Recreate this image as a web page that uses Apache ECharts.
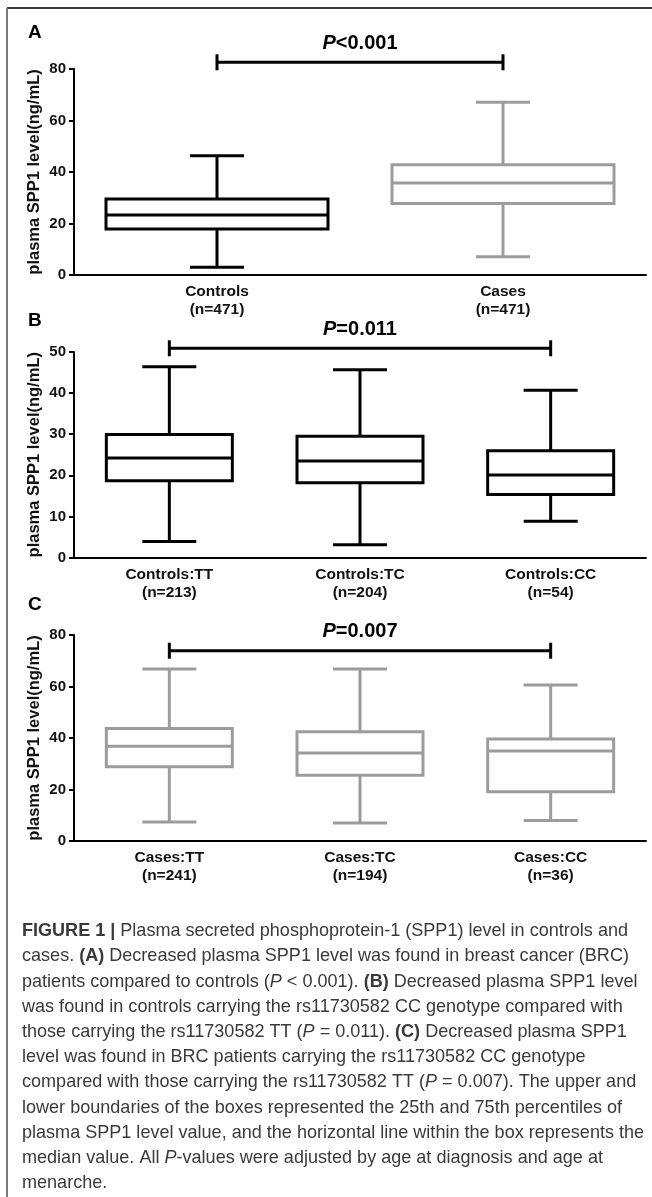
<!DOCTYPE html>
<html>
<head>
<meta charset="utf-8">
<title>Plasma SPP1 level</title>
<script src="https://cdn.jsdelivr.net/npm/echarts@6.0.0/dist/echarts.min.js"></script>
<style>
  html, body { margin: 0; padding: 0; background: #fff; }
  #chart { width: 652px; height: 1197px; }
</style>
</head>
<body>
<div id="chart"></div>
<script>
  // ---- data ----
  // every box: [min, q1, median, q3, max]
  const catsA = ['Controls\n(n=471)', 'Cases\n(n=471)']
  const boxA = [
    [3.0, 17.9, 23.3, 29.5, 46.3],
    [7.1, 27.8, 35.7, 42.8, 67.1]
  ]

  const catsB = ['Controls:TT\n(n=213)', 'Controls:TC\n(n=204)', 'Controls:CC\n(n=54)']
  const boxB = [
    [3.9, 18.7, 24.2, 29.9, 46.4],
    [3.1, 18.2, 23.5, 29.5, 45.7],
    [8.8, 15.3, 20.1, 26.0, 40.7]
  ]

  const catsC = ['Cases:TT\n(n=241)', 'Cases:TC\n(n=194)', 'Cases:CC\n(n=36)']
  const boxC = [
    [7.4, 28.8, 36.8, 43.7, 66.8],
    [7.0, 25.5, 34.2, 42.4, 66.8],
    [8.0, 19.1, 35.0, 39.6, 60.6]
  ]

  // significance bracket: [from category, to category, y value]
  const bracketA = [0, 1, 82.6]
  const bracketB = [0, 2, 50.9]
  const bracketC = [0, 2, 73.9]
  const pLabels = ['P<0.001', 'P=0.011', 'P=0.007']

  const yName = 'plasma SPP1 level(ng/mL)'

  // caption, one entry per printed line ({b|} bold, {i|} italic, {r|} regular)
  const captionLines = [
    '{b|FIGURE 1 |}{r| Plasma secreted phosphoprotein-1 (SPP1) level in controls and}',
    '{r|cases. }{b|(A)}{r| Decreased plasma SPP1 level was found in breast cancer (BRC)}',
    '{r|patients compared to controls (}{i|P}{r| < 0.001). }{b|(B)}{r| Decreased plasma SPP1 level}',
    '{r|was found in controls carrying the rs11730582 CC genotype compared with}',
    '{r|those carrying the rs11730582 TT (}{i|P}{r| = 0.011). }{b|(C)}{r| Decreased plasma SPP1}',
    '{r|level was found in BRC patients carrying the rs11730582 CC genotype}',
    '{r|compared with those carrying the rs11730582 TT (}{i|P}{r| = 0.007). The upper and}',
    '{r|lower boundaries of the boxes represented the 25th and 75th percentiles of}',
    '{r|plasma SPP1 level value, and the horizontal line within the box represents the}',
    '{r|median value. All }{i|P}{r|-values were adjusted by age at diagnosis and age at}',
    '{r|menarche.}'
  ]

  // ---- layout / style ----
  const FONT = 'Liberation Sans, Arial, sans-serif'
  const BLACK = '#000'
  const GRAY = '#9c9c9c'

  const panels = [
    { letter: 'A', cats: catsA, box: boxA, bracket: bracketA, p: pLabels[0],
      top: 69, height: 206, max: 80, interval: 20, boxPx: 222, colors: [BLACK, GRAY], letterY: 33 },
    { letter: 'B', cats: catsB, box: boxB, bracket: bracketB, p: pLabels[1],
      top: 352, height: 205.5, max: 50, interval: 10, boxPx: 126, colors: [BLACK, BLACK, BLACK], letterY: 321 },
    { letter: 'C', cats: catsC, box: boxC, bracket: bracketC, p: pLabels[2],
      top: 635, height: 206, max: 80, interval: 20, boxPx: 126, colors: [GRAY, GRAY, GRAY], letterY: 605 }
  ]

  const axisText = { color: '#111', fontWeight: 'bold', fontSize: 15, fontFamily: FONT }

  function boxRenderer(boxPx, colors) {
    return function (params, api) {
      const idx = api.value(0)
      const pMin = api.coord([idx, api.value(1)])
      const pQ1 = api.coord([idx, api.value(2)])
      const pMed = api.coord([idx, api.value(3)])
      const pQ3 = api.coord([idx, api.value(4)])
      const pMax = api.coord([idx, api.value(5)])
      const x = pMed[0]
      const half = boxPx / 2
      const cap = 27 // half width of whisker caps
      const st = (fill) => ({ stroke: colors[params.dataIndex], lineWidth: 3, fill: fill || null })
      return {
        type: 'group',
        children: [
          { type: 'line', shape: { x1: x, y1: pMax[1], x2: x, y2: pQ3[1] }, style: st() },
          { type: 'line', shape: { x1: x, y1: pQ1[1], x2: x, y2: pMin[1] }, style: st() },
          { type: 'line', shape: { x1: x - cap, y1: pMax[1], x2: x + cap, y2: pMax[1] }, style: st() },
          { type: 'line', shape: { x1: x - cap, y1: pMin[1], x2: x + cap, y2: pMin[1] }, style: st() },
          { type: 'rect', shape: { x: x - half, y: pQ3[1], width: boxPx, height: pQ1[1] - pQ3[1] }, style: st('#fff') },
          { type: 'line', shape: { x1: x - half, y1: pMed[1], x2: x + half, y2: pMed[1] }, style: st() }
        ]
      }
    }
  }

  function bracketRenderer(label) {
    return function (params, api) {
      const p1 = api.coord([api.value(0), api.value(2)])
      const p2 = api.coord([api.value(1), api.value(2)])
      const y = p1[1]
      const st = { stroke: '#000', lineWidth: 3 }
      const big = { fontSize: 20, fontWeight: 'bold', fontFamily: FONT, fill: '#000' }
      return {
        type: 'group',
        children: [
          { type: 'line', shape: { x1: p1[0], y1: y, x2: p2[0], y2: y }, style: st },
          { type: 'line', shape: { x1: p1[0], y1: y - 8, x2: p1[0], y2: y + 8 }, style: st },
          { type: 'line', shape: { x1: p2[0], y1: y - 8, x2: p2[0], y2: y + 8 }, style: st },
          {
            type: 'text',
            x: (p1[0] + p2[0]) / 2,
            y: y - 19,
            style: Object.assign({
              text: '{i|' + label.slice(0, 1) + '}{n|' + label.slice(1) + '}',
              align: 'center',
              verticalAlign: 'middle',
              rich: {
                i: Object.assign({ fontStyle: 'italic' }, big),
                n: big
              }
            }, big)
          }
        ]
      }
    }
  }

  const grid = []
  const xAxis = []
  const yAxis = []
  const series = []
  const graphic = []

  panels.forEach((pn, k) => {
    grid.push({ left: 74, width: 572, top: pn.top, height: pn.height })
    xAxis.push({
      type: 'category',
      gridIndex: k,
      data: pn.cats,
      axisLine: { lineStyle: { color: '#000', width: 2 } },
      axisTick: { alignWithLabel: true, length: 5, lineStyle: { color: '#000', width: 2 } },
      axisLabel: Object.assign({ interval: 0, margin: 8, lineHeight: 18 }, axisText, { fontSize: 15.5 }),
      splitLine: { show: false }
    })
    yAxis.push({
      type: 'value',
      gridIndex: k,
      min: 0,
      max: pn.max,
      interval: pn.interval,
      name: yName,
      nameLocation: 'middle',
      nameGap: 31,
      nameMoveOverlap: false,
      nameTextStyle: Object.assign({}, axisText, { fontSize: 16.5 }),
      axisLine: { show: true, lineStyle: { color: '#000', width: 2 } },
      axisTick: { show: true, length: 5, lineStyle: { color: '#000', width: 2 } },
      axisLabel: Object.assign({ margin: 8 }, axisText),
      splitLine: { show: false }
    })
    series.push({
      type: 'custom',
      xAxisIndex: k,
      yAxisIndex: k,
      renderItem: boxRenderer(pn.boxPx, pn.colors),
      encode: { x: 0, y: [1, 2, 3, 4, 5] },
      data: pn.box.map((b, i) => [i].concat(b))
    })
    series.push({
      type: 'custom',
      xAxisIndex: k,
      yAxisIndex: k,
      clip: false,
      renderItem: bracketRenderer(pn.p),
      encode: { x: [0, 1], y: 2 },
      data: [pn.bracket]
    })
    graphic.push({
      type: 'text',
      left: 28,
      top: pn.letterY - 10,
      style: { text: pn.letter, fontSize: 19, fontWeight: 'bold', fontFamily: FONT, fill: '#000' }
    })
  })

  // frame of the figure
  graphic.push({ type: 'line', shape: { x1: 7, y1: 8, x2: 652, y2: 8 }, style: { stroke: '#3c3c3c', lineWidth: 2 } })
  graphic.push({ type: 'line', shape: { x1: 7, y1: 8, x2: 7, y2: 1197 }, style: { stroke: '#7a7a7a', lineWidth: 2 } })

  // caption, slightly condensed like the journal font
  const capBase = { fontSize: 19, fontFamily: FONT, fill: '#3a3a3a', lineHeight: 25 }
  const capRich = {
    r: capBase,
    b: Object.assign({}, capBase, { fontWeight: 'bold' }),
    i: Object.assign({}, capBase, { fontStyle: 'italic' })
  }
  captionLines.forEach((line, i) => {
    graphic.push({
      type: 'text',
      x: 22,
      y: 931 + i * 25.2,
      scaleX: 0.95,
      style: Object.assign({ text: line, rich: capRich, verticalAlign: 'middle' }, capBase)
    })
  })

  const chart = echarts.init(document.getElementById('chart'))
  chart.setOption({
    backgroundColor: '#fff',
    animation: false,
    grid,
    xAxis,
    yAxis,
    series,
    graphic: { elements: graphic }
  })
</script>
</body>
</html>
